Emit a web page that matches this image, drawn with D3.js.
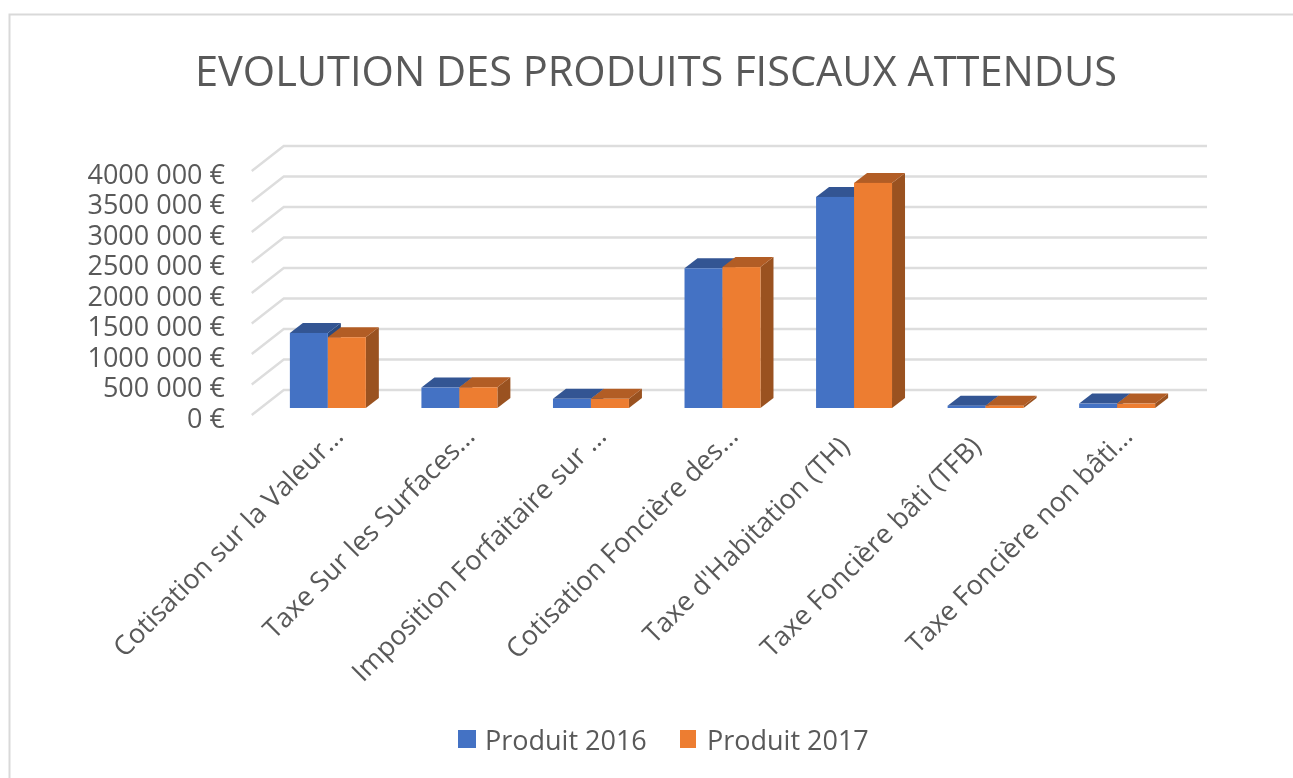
<!DOCTYPE html>
<html><head><meta charset="utf-8">
<script src="https://cdn.jsdelivr.net/npm/d3@7"></script>
<style>html,body{margin:0;padding:0;background:#fff;}svg{display:block;filter:blur(0.7px);}text{font-family:"Open Sans",sans-serif;fill:#595959;}</style>
</head><body><svg id="c" width="1293" height="778"></svg>
<script>
const titleText = "EVOLUTION DES PRODUITS FISCAUX ATTENDUS";
const categories = ["Cotisation sur la Valeur…","Taxe Sur les Surfaces…","Imposition Forfaitaire sur …","Cotisation Foncière des…","Taxe d'Habitation (TH)","Taxe Foncière bâti (TFB)","Taxe Foncière non bâti…"];
const seriesNames = ["Produit 2016","Produit 2017"];
const produit2016 = [1230000,335000,150000,2290000,3460000,38000,72000];
const produit2017 = [1160000,340000,150000,2310000,3690000,38000,72000];
const tickValues = [0,500000,1000000,1500000,2000000,2500000,3000000,3500000,4000000];
const tickLabels = ["0 €","500 000 €","1000 000 €","1500 000 €","2000 000 €","2500 000 €","3000 000 €","3500 000 €","4000 000 €"];
const fronts = ["#4472C4","#ED7D31"], tops = ["#335593","#B25D25"], sides = ["#2A4A80","#9A5220"];

const svg = d3.select("#c");
svg.append("rect").attr("x",9.5).attr("y",14.5).attr("width",1285).attr("height",770).attr("fill","#fff").attr("stroke","#D9D9D9").attr("stroke-width",2);
svg.append("text").attr("x",656).attr("y",85.5).attr("text-anchor","middle").attr("font-size",42).attr("textLength",922).attr("lengthAdjust","spacingAndGlyphs").text(titleText);

const y = d3.scaleLinear().domain([0,4000000]).range([408,164]);
const x = d3.scaleBand().domain(categories).range([262.25,1182.75]).paddingInner(0.4225).paddingOuter(0.21);
const wallDx = 32, wallDy = -25, frontDy = 7, frontDx = -10.5, depthX = 13, depthY = -10;
const lev = v => y(v)+frontDy;

svg.append("g").selectAll("polyline").data(tickValues).join("polyline")
  .attr("fill","none").attr("stroke","#DDDDDD").attr("stroke-width",2.4)
  .attr("points",d=>[[262.25+frontDx,lev(d)],[262.25+frontDx+wallDx,lev(d)+wallDy],[1207,lev(d)+wallDy]].join(" "));

svg.append("g").selectAll("text").data(tickValues).join("text")
  .attr("x",225).attr("y",d=>lev(d)+12.5).attr("text-anchor","end").attr("font-size",27).text((d,i)=>tickLabels[i]);

const bw = x.bandwidth()/2;
const g = svg.append("g");
categories.forEach((c,i)=>{
  [produit2016,produit2017].forEach((arr,s)=>{
    const x0 = x(c)+s*bw, x1 = x0+bw, yt = y(arr[i]), yb = y(0);
    const gb = g.append("g");
    gb.append("polygon").attr("fill",sides[s]).attr("points",[[x1,yb],[x1+depthX,yb+depthY],[x1+depthX,yt+depthY],[x1,yt]].join(" "));
    gb.append("polygon").attr("fill",tops[s]).attr("points",[[x0,yt],[x0+depthX,yt+depthY],[x1+depthX,yt+depthY],[x1,yt]].join(" "));
    gb.append("rect").attr("x",x0).attr("y",yt).attr("width",bw).attr("height",yb-yt).attr("fill",fronts[s]);
  });
});

svg.append("g").selectAll("text").data(categories).join("text")
  .attr("text-anchor","end").attr("font-size",27)
  .attr("transform",c=>`translate(${x(c)+x.bandwidth()/2+(c.endsWith("…")?17:-3)},${c.endsWith("…")?438:448}) rotate(-45)`)
  .text(c=>c);

const lg = svg.append("g").selectAll("g").data(seriesNames).join("g").attr("transform",(d,i)=>`translate(${458+i*222},730)`);
lg.append("rect").attr("width",(d,i)=>i?16:18).attr("height",18).attr("fill",(d,i)=>fronts[i]);
lg.append("text").attr("x",27).attr("y",20).attr("font-size",27).text(d=>d);
</script></body></html>
